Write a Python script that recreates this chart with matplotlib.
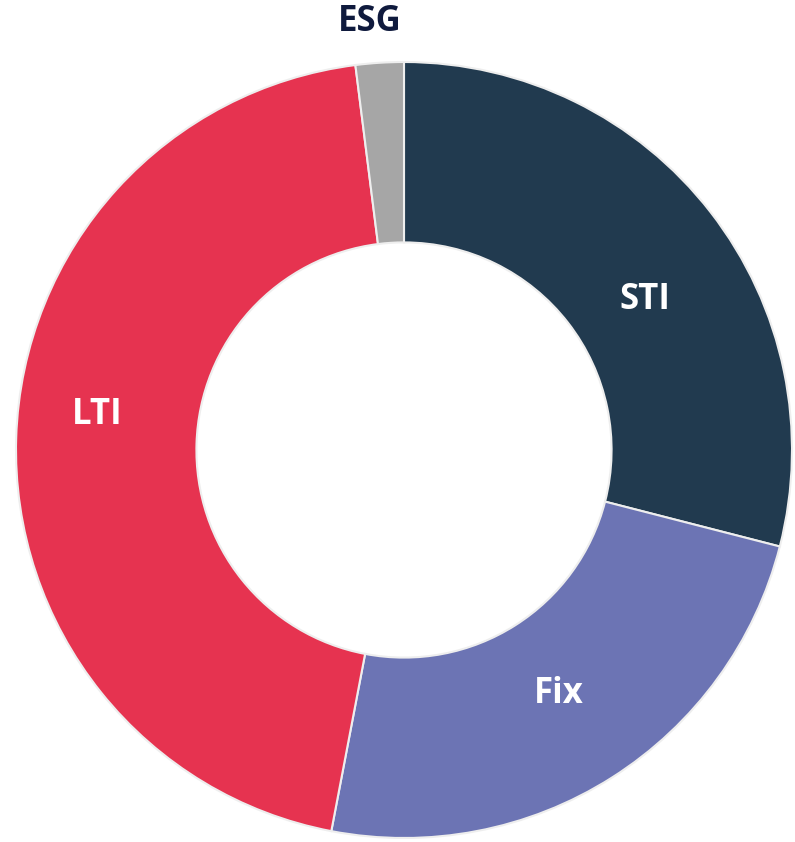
import numpy as np
import matplotlib
matplotlib.use("Agg")
import matplotlib.pyplot as plt

# ── DATA ───────────────────────────────────────────────────────────────────────
labels = ["STI", "Fix", "LTI", "ESG"]
shares = [29, 24, 45, 2]
colors = ["#213A4F", "#6C74B4", "#E63350", "#A6A6A6"]
label_colors = ["white", "white", "white", "#0F1A3D"]

# label placement: radius and angular nudge (deg) from the wedge middle
label_radius = [0.73, 0.745, 0.795, 1.107]
label_nudge  = [-5.9, 0.0, -4.7, 1.0]

# ── FIGURE ─────────────────────────────────────────────────────────────────────
plt.rcParams['font.family'] = ['Open Sans', 'DejaVu Sans']
fig = plt.figure(figsize=(7.95, 8.42), dpi=100)
ax = fig.add_axes([0, 0, 1, 1])

wedges, _ = ax.pie(shares, colors=colors, startangle=90, counterclock=False,
                   radius=1.0,
                   wedgeprops=dict(width=0.465, edgecolor="#EEEEEE", linewidth=1.5))

for w, lab, col, r, dn in zip(wedges, labels, label_colors, label_radius, label_nudge):
    mid = np.deg2rad((w.theta1 + w.theta2) / 2 + dn)
    ax.text(r * np.cos(mid), r * np.sin(mid), lab, ha='center', va='center',
            fontsize=25, fontweight='bold', color=col)

ax.set_xlim(-404 / 388, 391 / 388)
ax.set_ylim(-392 / 388, 450 / 388)
ax.set_aspect('equal')
ax.axis('off')

fig.savefig("out.png", dpi=100, facecolor="white")
